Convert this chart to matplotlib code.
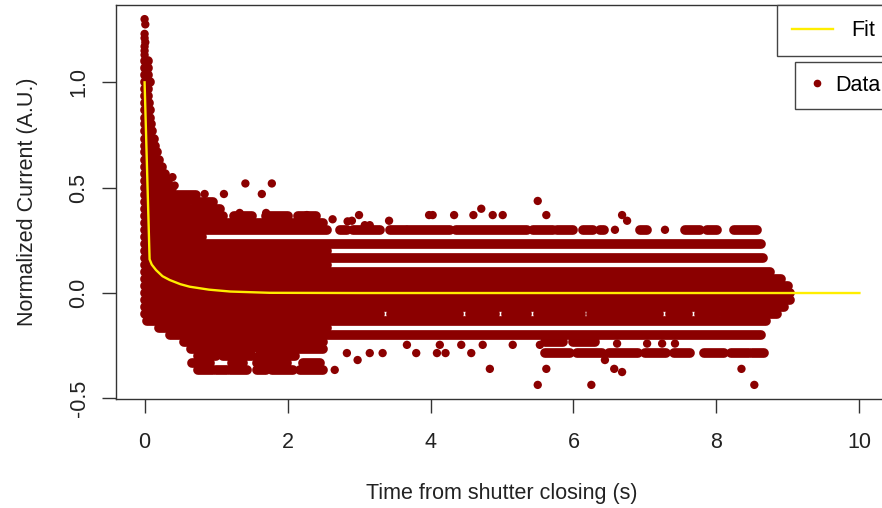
import matplotlib.pyplot as plt
from matplotlib.lines import Line2D

plt.rcParams['font.family'] = ['Liberation Sans', 'DejaVu Sans']

DOT_COLOR = "#8B0000"
FIT_COLOR = "#FFEE00"
FONT_SIZE = 15.5

# fitted decay
fit_t = [0.0, 0.07, 0.1, 0.16, 0.25, 0.35, 0.5, 0.63, 0.9, 1.2, 1.75, 3.0, 10.0]
fit_y = [1.0, 0.16, 0.135, 0.109, 0.08, 0.062, 0.042, 0.03, 0.016, 0.007, 0.001, 0.0, 0.0]

# the current is quantised, so the points pile up into horizontal runs:
# level, first time, last time of each run
run_y = [1.10, 1.067, 1.033, 1.0, 0.967, 0.933, 0.9, 0.867, 0.833, 0.8,
         0.767, 0.733, 0.7, 0.667, 0.633, 0.6, 0.567, 0.533, 0.5, 0.467,
         0.433, 0.433, 0.4, 0.367, 0.367, 0.367, 0.367, 0.333,
         0.3, 0.3, 0.3, 0.3, 0.3, 0.3, 0.3, 0.3, 0.3, 0.3, 0.3, 0.3, 0.3,
         0.267, 0.233, 0.2, 0.167, 0.133, 0.1, 0.067, 0.033, 0.0, -0.033, -0.067,
         -0.1, -0.1, -0.1, -0.1, -0.1, -0.1, -0.1, -0.1, -0.1, -0.1, -0.1, -0.1,
         -0.133, -0.167, -0.2,
         -0.233, -0.233, -0.233,
         -0.267, -0.267, -0.267,
         -0.285, -0.285, -0.285, -0.285, -0.285, -0.285, -0.285, -0.285,
         -0.3, -0.3, -0.3,
         -0.333, -0.333, -0.333, -0.333,
         -0.367, -0.367, -0.367, -0.367, -0.367, -0.367]
run_t0 = [0, 0, 0, 0, 0, 0, 0, 0, 0, 0,
          0, 0, 0, 0, 0, 0, 0, 0, 0, 0,
          0, 0.7, 0, 0, 1.25, 1.7, 2.15, 0,
          0, 2.73, 2.91, 3.43, 4.35, 5.43, 5.77, 6.13, 6.93, 7.56, 7.87, 8.24, 6.37,
          0, 0, 0, 0, 0, 0, 0, 0, 0, 0, 0,
          0, 2.95, 3.45, 3.95, 4.55, 5.05, 5.5, 6.25, 6.6, 7.35, 7.75, 8.1,
          0.03, 0.2, 0.35,
          0.55, 5.6, 6.0,
          0.65, 1.05, 1.6,
          5.6, 6.05, 6.5, 7.0, 7.4, 7.82, 8.2, 8.5,
          0.75, 1.1, 1.6,
          0.67, 1.22, 1.57, 2.21,
          0.75, 1.0, 1.2, 1.57, 1.78, 2.17]
run_t1 = [0.05, 0.05, 0.05, 0.07, 0.05, 0.05, 0.06, 0.07, 0.08, 0.09,
          0.1, 0.13, 0.15, 0.17, 0.2, 0.24, 0.28, 0.33, 0.38, 0.72,
          0.6, 0.95, 1.05, 1.1, 1.5, 2.0, 2.4, 2.5,
          2.55, 2.83, 3.29, 4.27, 5.35, 5.71, 6.0, 6.27, 7.03, 7.77, 8.01, 8.57, 6.42,
          0.8, 8.62, 2.55, 8.65, 2.55, 8.75, 8.9, 9.0, 9.03, 9.03, 8.95,
          2.85, 3.3, 3.85, 4.4, 4.9, 5.35, 6.1, 6.5, 7.2, 7.6, 8.0, 8.85,
          8.7, 2.55, 8.62,
          2.5, 5.85, 6.3,
          0.95, 1.5, 2.5,
          5.95, 6.4, 6.9, 7.3, 7.63, 8.1, 8.45, 8.66,
          1.0, 1.5, 2.1,
          0.91, 1.37, 1.99, 2.45,
          0.95, 1.15, 1.43, 1.7, 2.07, 2.5]

# points standing on their own
dot_t = [0.0, 0.01, 0.0, 0.0, 0.01, 0.0, 0.0, 0.0,
         0.39, 0.42, 1.41, 1.78, 0.84, 1.11, 1.64, 1.33, 1.70, 2.27, 2.63, 2.84,
         5.50, 4.71, 3.00, 2.90, 3.42, 3.98, 4.03, 4.33, 4.60, 4.87, 5.01, 5.62,
         3.08, 3.15, 3.67, 6.68, 6.75, 6.58, 7.28,
         5.50, 6.25, 8.53, 4.83, 5.62, 6.57, 6.68, 8.35, 2.98, 6.44,
         2.83, 3.15, 3.33, 3.80, 4.09, 4.21, 4.57, 2.66,
         3.67, 4.13, 4.43, 4.73, 5.15, 5.53, 6.61, 7.03, 7.24, 7.42]
dot_y = [1.30, 1.275, 1.23, 1.21, 1.19, 1.17, 1.15, 1.13,
         0.55, 0.51, 0.52, 0.52, 0.47, 0.47, 0.47, 0.38, 0.38, 0.37, 0.35, 0.34,
         0.437, 0.40, 0.37, 0.343, 0.343, 0.37, 0.37, 0.37, 0.37, 0.37, 0.37, 0.37,
         0.322, 0.322, 0.30, 0.37, 0.343, 0.30, 0.30,
         -0.436, -0.436, -0.436, -0.36, -0.36, -0.36, -0.375, -0.36, -0.318, -0.318,
         -0.285, -0.285, -0.285, -0.285, -0.285, -0.285, -0.285, -0.365,
         -0.246, -0.246, -0.246, -0.246, -0.246, -0.246, -0.24, -0.24, -0.24, -0.24]

x_ticks = [0, 2, 4, 6, 8, 10]
y_ticks = [-0.5, 0.0, 0.5, 1.0]
y_tick_labels = ["-0.5", "0.0", "0.5", "1.0"]

DOT_PT = 6.0   # single marker diameter in points
RUN_PT = 7.0   # thickness of a run of overlapping markers

fig = plt.figure(figsize=(8.82, 5.08), dpi=100)
# the plot box runs past the right edge of the picture, as in the original
ax = fig.add_axes([116 / 882, 109 / 508, 772 / 882, 394 / 508])

ax.hlines(run_y, run_t0, run_t1, colors=DOT_COLOR, linewidth=RUN_PT,
          capstyle="round", zorder=2)
ax.scatter(dot_t, dot_y, s=DOT_PT ** 2, color=DOT_COLOR, edgecolors="none", zorder=2)
ax.plot(fit_t, fit_y, color=FIT_COLOR, linewidth=1.7, zorder=3)

ax.set_xlim(-0.4, 10.4)
ax.set_ylim(-0.503, 1.367)

for side in ["top", "right", "bottom", "left"]:
    ax.spines[side].set_color("#333333")
    ax.spines[side].set_linewidth(1.0)

ax.set_xticks(x_ticks)
ax.set_xticklabels([str(v) for v in x_ticks])
ax.set_yticks(y_ticks)
ax.set_yticklabels(y_tick_labels, rotation=90, va="center")
ax.tick_params(axis="both", direction="out", length=10, width=1.0, color="#333333",
               labelsize=FONT_SIZE, labelcolor="#222222")
ax.tick_params(axis="x", pad=14)
ax.tick_params(axis="y", pad=9)

ax.set_xlabel("Time from shutter closing (s)", fontsize=FONT_SIZE, color="#222222")
ax.set_ylabel("Normalized Current (A.U.)", fontsize=FONT_SIZE, color="#222222")
ax.xaxis.label.set_va("center")
ax.yaxis.label.set_va("center")
ax.xaxis.set_label_coords(0.5, (399 - 493) / 394)
ax.yaxis.set_label_coords((28 - 116) / 772, 0.5)

# two separate legend boxes, as R draws them
fit_handle = Line2D([], [], color=FIT_COLOR, linewidth=1.7)
data_handle = Line2D([], [], linestyle="none", marker="o", markersize=4.5,
                     color=DOT_COLOR)

leg_fit = ax.legend([fit_handle], ["Fit"], loc="upper left",
                    bbox_to_anchor=(777 / 882, 1 - 5 / 508),
                    bbox_transform=fig.transFigure, borderaxespad=0,
                    fontsize=FONT_SIZE, fancybox=False, framealpha=1,
                    edgecolor="#444444", borderpad=0.7, handlelength=1.9,
                    handletextpad=0.85)
leg_fit.get_frame().set_linewidth(1.0)
ax.add_artist(leg_fit)

leg_data = ax.legend([data_handle], ["Data"], loc="upper left",
                     bbox_to_anchor=(795 / 882, 1 - 62 / 508),
                     bbox_transform=fig.transFigure, borderaxespad=0,
                     fontsize=FONT_SIZE, fancybox=False, framealpha=1,
                     edgecolor="#444444", borderpad=0.6, handlelength=0.8,
                     handletextpad=0.45)
leg_data.get_frame().set_linewidth(1.0)

fig.savefig("out.png", dpi=100)
